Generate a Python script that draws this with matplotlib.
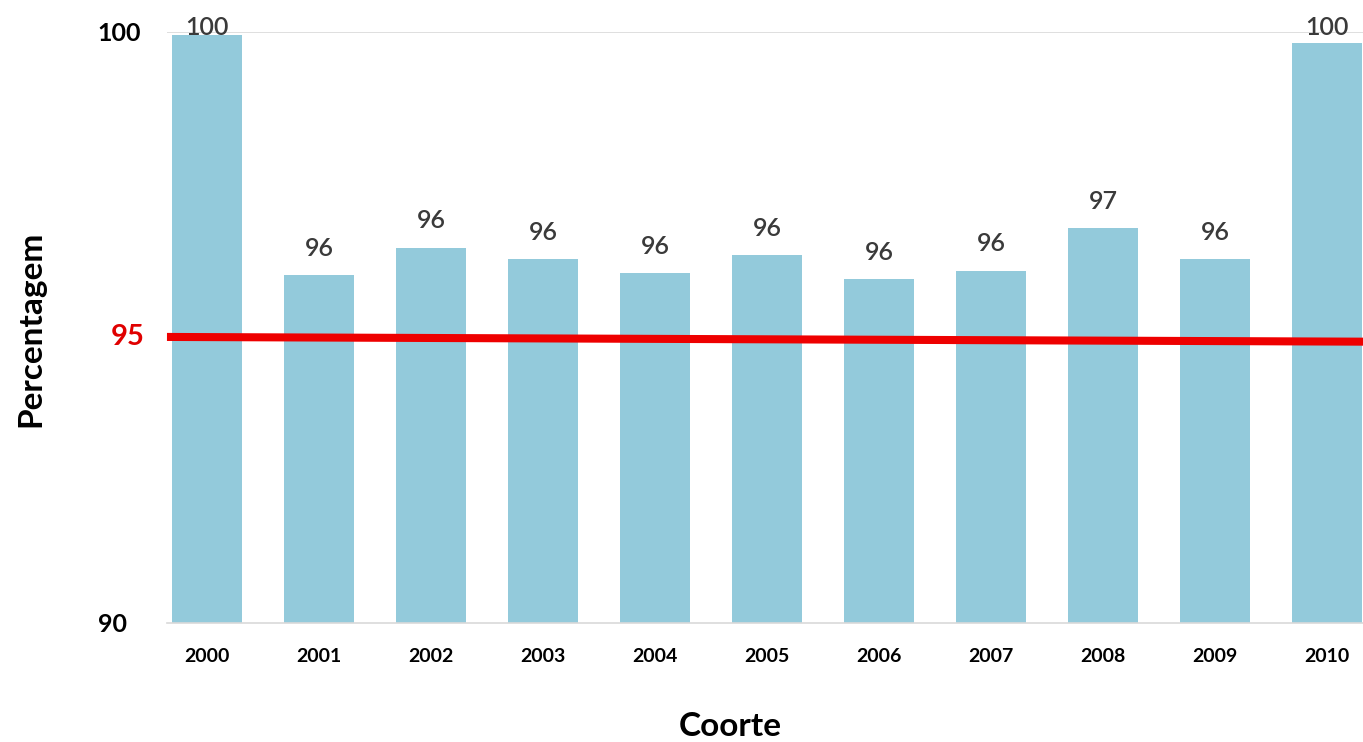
import numpy as np
import matplotlib
matplotlib.use("Agg")
import matplotlib.pyplot as plt
import matplotlib.transforms as mtransforms

plt.rcParams['font.family'] = ['Lato', 'DejaVu Sans']

# data
coortes = ['2000', '2001', '2002', '2003', '2004', '2005',
           '2006', '2007', '2008', '2009', '2010']
percentagem = [99.95, 95.89, 96.35, 96.16, 95.92, 96.23,
               95.82, 95.96, 96.68, 96.16, 99.81]
meta_y = [94.84, 94.76]  # red target line (drawn slightly tilted in the source)
meta_label = '95'

fig = plt.figure(figsize=(13.63, 7.42), dpi=100)
ax = fig.add_axes([0.1225, 0.1604, 0.8775, 0.7965])

x = np.arange(len(coortes))
ax.bar(x, [v - 90 for v in percentagem], bottom=90, width=0.625,
       color='#93CADB', zorder=2)

# value labels (kept inside the plot area near the top, like Excel does)
for xi, v in zip(x, percentagem):
    ax.annotate(f'{round(v)}', (xi, min(v, 99.62)), xytext=(0, 11),
                textcoords='offset points', ha='center', va='bottom',
                fontsize=18, fontweight='semibold', color='#3A3A3A',
                zorder=4, annotation_clip=False)

ax.set_xlim(-0.357, 10.32)
ax.set_ylim(90, 100)

# red 95 line
ax.plot([-0.357, 10.32], meta_y, color='#EE0000', linewidth=5.8,
        solid_capstyle='butt', zorder=3, clip_on=False)
trans = mtransforms.blended_transform_factory(fig.transFigure, ax.transData)
ax.text(128 / 1363, meta_y[0], meta_label, transform=trans, ha='center', va='center',
        fontsize=21, fontweight='bold', color='#E00000')

# gridline at 100, light baseline
ax.axhline(100, color='#D9D9D9', linewidth=1.2, zorder=1)
for s in ['top', 'right', 'left']:
    ax.spines[s].set_visible(False)
ax.spines['bottom'].set_color('#D9D9D9')
ax.spines['bottom'].set_linewidth(1.2)

ax.set_yticks([90, 100])
ax.set_yticklabels(['90', '100'], fontsize=18, fontweight='bold')
ax.set_xticks(x)
ax.set_xticklabels(coortes, fontsize=14, fontweight='bold')
ax.tick_params(axis='y', length=0, pad=19)
ax.tick_params(axis='x', length=0, pad=18)

# the "90" label sits a bit further left in the source
lbl90 = ax.get_yticklabels()[0]
lbl90.set_transform(lbl90.get_transform() +
                    mtransforms.ScaledTranslation(-14 / 100, 0, fig.dpi_scale_trans))

fig.text(730 / 1363, 1 - 727 / 742, 'Coorte', ha='center', va='center',
         fontsize=24, fontweight='bold')
fig.text(31 / 1363, 1 - 329 / 742, 'Percentagem', ha='center', va='center',
         rotation=90, fontsize=24, fontweight='bold')

fig.savefig('out.png', dpi=100)
